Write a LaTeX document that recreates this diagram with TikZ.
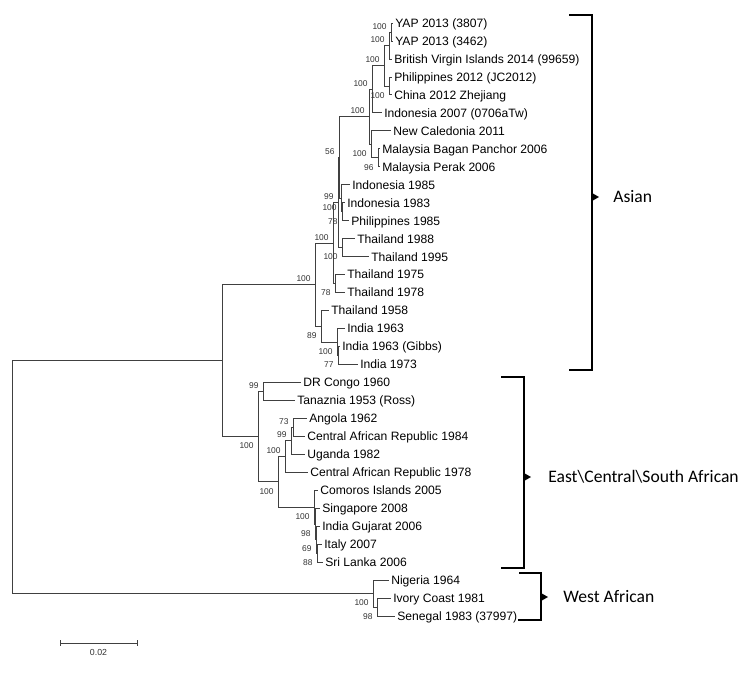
\documentclass[tikz,border=0pt]{standalone}
\usepackage{fontspec}
\setmainfont{Liberation Sans}
\newfontfamily\cladefont{Carlito}
\begin{document}
\begin{tikzpicture}[x=0.02cm, y=-0.02cm,
    rama/.style={draw=black!75, line width=0.45pt},
    hoja/.style={anchor=west, inner sep=1.1pt, text height=5pt, text depth=0pt,
                 font=\fontsize{6.9}{8}\selectfont},
    bsup/.style={anchor=south east, inner sep=0pt, xshift=-2.3pt, yshift=1.4pt,
                 text height=3.4pt, text depth=0pt, text=black!80, font=\fontsize{4.8}{5}\selectfont},
    bsdown/.style={anchor=north east, inner sep=0pt, xshift=-2.3pt, yshift=-3.4pt,
                 text height=3.4pt, text depth=0pt, text=black!80, font=\fontsize{4.8}{5}\selectfont},
    llave/.style={line width=1.1pt, line cap=rect},
    clado/.style={anchor=west, inner sep=0pt, text height=6.4pt, text depth=0pt,
                 font=\cladefont\fontsize{10}{12}\selectfont}]
    \useasboundingbox (0,0) rectangle (750,686);

    % Hojas (cepas)
    \foreach \tip/\txt [count=\i] in {393/YAP 2013 (3807), 393/YAP 2013 (3462),
        392/British Virgin Islands 2014 (99659), 392/Philippines 2012 (JC2012),
        392/China 2012 Zhejiang, 382/Indonesia 2007 (0706aTw), 391/New Caledonia 2011,
        380/Malaysia Bagan Panchor 2006, 380/Malaysia Perak 2006, 350/Indonesia 1985,
        345/Indonesia 1983, 349/Philippines 1985, 355/Thailand 1988, 369/Thailand 1995,
        345/Thailand 1975, 345/Thailand 1978, 329/Thailand 1958, 345/India 1963,
        340/India 1963 (Gibbs), 358/India 1973, 301/DR Congo 1960, 295/Tanaznia 1953 (Ross),
        307/Angola 1962, 305/Central African Republic 1984, 305/Uganda 1982,
        308/Central African Republic 1978, 318/Comoros Islands 2005, 320/Singapore 2008,
        320/India Gujarat 2006, 322/Italy 2007, 323/Sri Lanka 2006, 389/Nigeria 1964,
        391/Ivory Coast 1981, 395/Senegal 1983 (37997)}
        \node[hoja] (l\i) at (\tip, {23+(\i-1)*17.97}) {\txt};

    % Nodos internos
    \coordinate (R)   at (12, 477.1);
    \coordinate (AE)  at (222, 360.65);
    \coordinate (AS)  at (315, 284.7);
    \coordinate (A1)  at (333, 243.1);
    \coordinate (K)   at (338, 202.55);
    \coordinate (X1)  at (339, 157.5);
    \coordinate (Y5)  at (369, 116.8);
    \coordinate (Y4)  at (372, 89.3);
    \coordinate (Y3)  at (384, 65.7);
    \coordinate (Y2)  at (389, 45.45);
    \coordinate (Y1)  at (391, 32.0);
    \coordinate (PC)  at (389, 85.9);
    \coordinate (M)   at (371, 144.3);
    \coordinate (MP)  at (378, 157.8);
    \coordinate (I2)  at (341, 198.2);
    \coordinate (I1)  at (342, 211.7);
    \coordinate (T8)  at (342, 247.6);
    \coordinate (T7)  at (335, 283.6);
    \coordinate (N89) at (321, 326.25);
    \coordinate (XI)  at (337, 342.0);
    \coordinate (YI)  at (338, 355.45);
    \coordinate (E0)  at (258, 436.6);
    \coordinate (DT)  at (263, 391.4);
    \coordinate (E1)  at (278, 481.8);
    \coordinate (E2)  at (285, 456.55);
    \coordinate (E21) at (291, 440.8);
    \coordinate (E22) at (293, 427.3);
    \coordinate (E3)  at (314, 507.05);
    \coordinate (G3)  at (315, 523.9);
    \coordinate (G2)  at (316, 539.65);
    \coordinate (G1)  at (317, 553.1);
    \coordinate (W0)  at (373, 593.55);
    \coordinate (IS)  at (377, 607.0);

    % Ramas
    \foreach \p/\c in {R/AE, R/W0, AE/AS, AE/E0, AS/A1, AS/N89, A1/K, A1/T7, K/X1, K/T8,
        X1/Y5, X1/I2, Y5/Y4, Y5/M, Y4/Y3, Y3/Y2, Y3/PC, Y2/Y1, M/MP, I2/I1, N89/XI, XI/YI,
        E0/DT, E0/E1, E1/E2, E1/E3, E2/E21, E21/E22, E3/G3, G3/G2, G2/G1, W0/IS}
        \draw[rama] (\p) |- (\c);
    \foreach \p/\i in {Y1/1, Y1/2, Y2/3, PC/4, PC/5, Y4/6, M/7, MP/8, MP/9, I2/10, I1/11,
        I1/12, T8/13, T8/14, T7/15, T7/16, N89/17, XI/18, YI/19, YI/20, DT/21, DT/22,
        E22/23, E22/24, E21/25, E2/26, E3/27, G3/28, G2/29, G1/30, G1/31, W0/32, IS/33, IS/34}
        \draw[rama] (\p) |- (l\i.west);

    % Valores de bootstrap
    \foreach \nd/\v in {Y1/100, Y2/100, Y3/100, Y4/100, Y5/100, X1/56, K/99, A1/100,
        AS/100, DT/99, E22/73, E21/99, E2/100}
        \node[bsup] (b\nd) at (\nd) {\v};
    \foreach \nd/\v in {PC/100, M/100, MP/96, I2/100, I1/78, T8/100, T7/78, N89/89,
        XI/100, YI/77, E0/100, E1/100, E3/100, G3/98, G2/69, G1/88, W0/100, IS/98}
        \node[bsdown] (b\nd) at (\nd) {\v};

    % Escala
    \draw[rama] (60,643) -- (137,643);
    \draw[rama] (60,640) -- (60,646);
    \draw[rama] (137,640) -- (137,646);
    \node[font=\fontsize{5}{6}\selectfont, text=black!80] (escala) at (98.5,652) {0.02};

    % Llaves de los genotipos
    \draw[llave] (570,15) -- (592,15) -- (592,370) -- (570,370);
    \fill (592,193) -- (599,197) -- (592,201) -- cycle;
    \node[clado] (asia) at (613,197) {Asian};

    \draw[llave] (502,377) -- (524,377) -- (524,568) -- (502,568);
    \fill (524,473) -- (531,477) -- (524,481) -- cycle;
    \node[clado] (ecsa) at (548,477) {East\textbackslash Central\textbackslash South African};

    \draw[llave] (520,573) -- (541,573) -- (541,620) -- (519,620);
    \fill (541,593) -- (548,597) -- (541,601) -- cycle;
    \node[clado] (oeste) at (563,597) {West African};
\end{tikzpicture}
\end{document}
